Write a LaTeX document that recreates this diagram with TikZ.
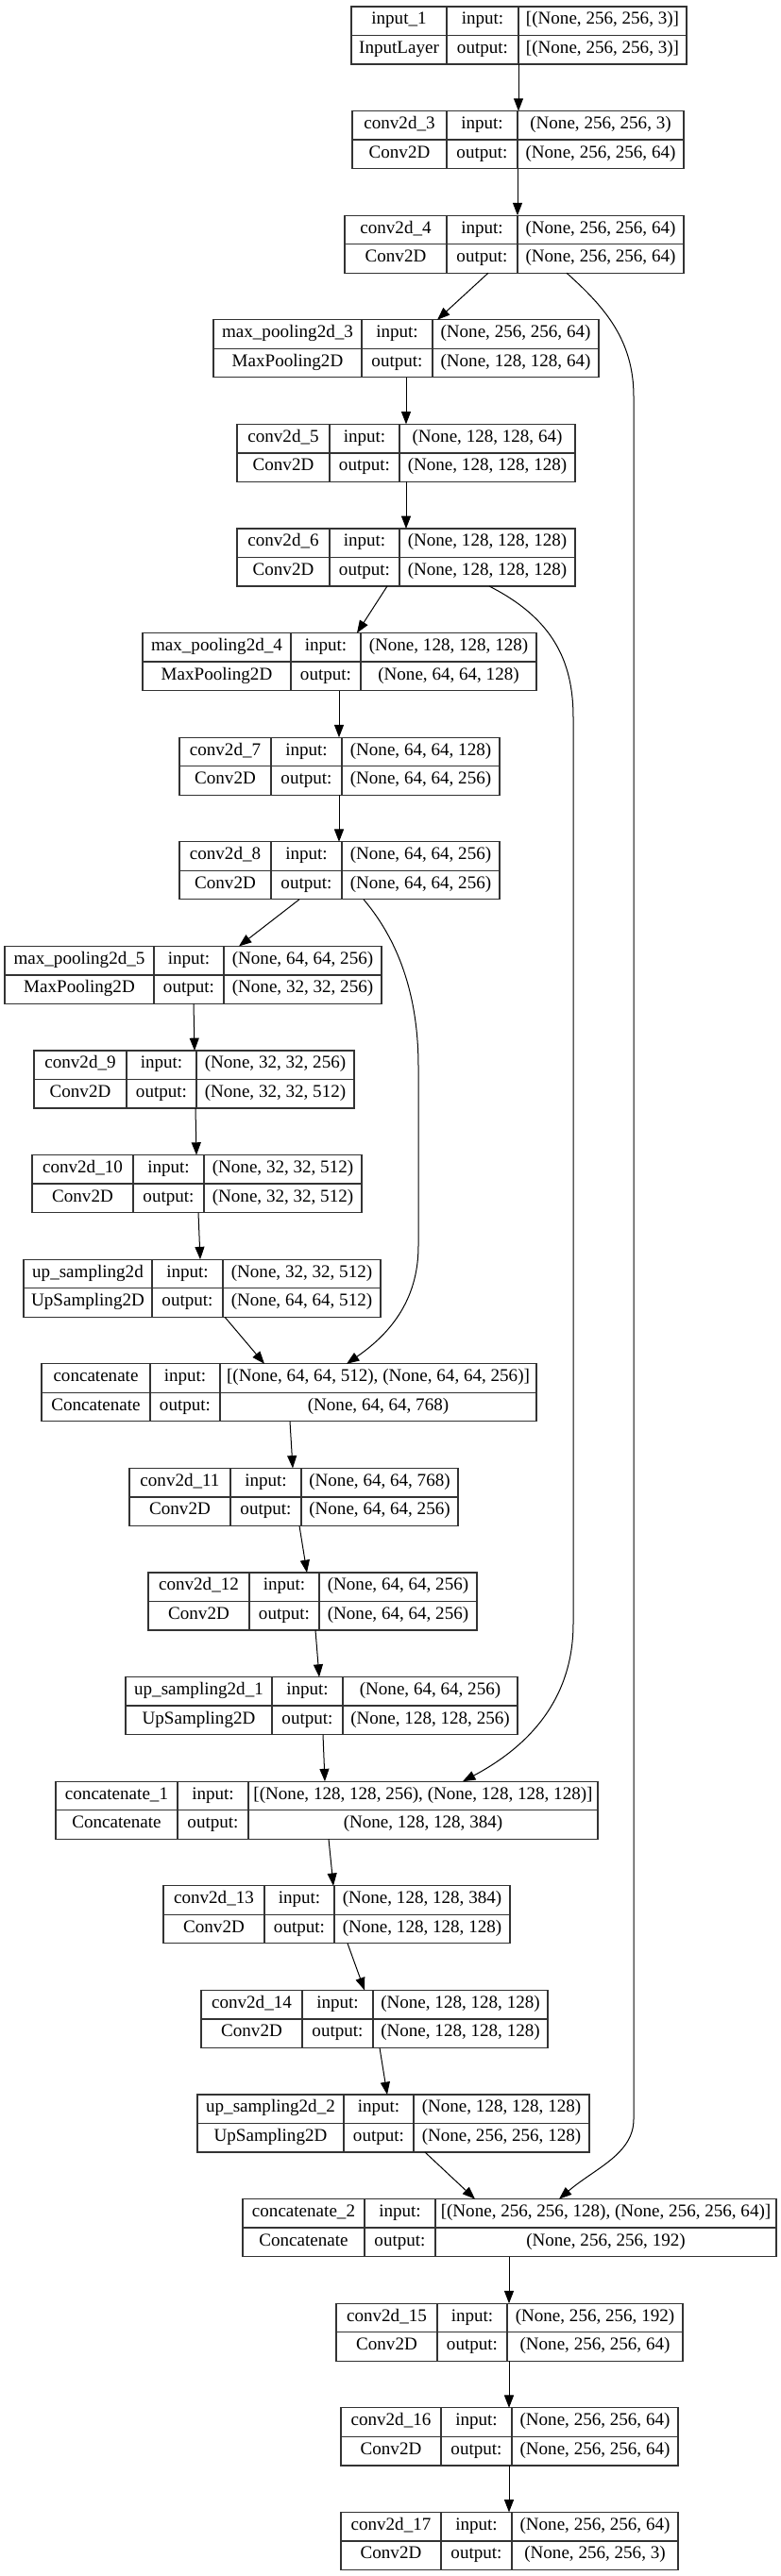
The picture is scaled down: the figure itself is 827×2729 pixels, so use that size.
\documentclass[tikz,border=0pt]{standalone}
\usepackage{fontspec}
\setmainfont{Liberation Serif}
\usetikzlibrary{arrows.meta}

\tikzset{
  layerbox/.style={draw=black!80, line width=1pt, inner sep=0pt, outer sep=0pt, minimum height=45.75pt, anchor=north west},
  cellsep/.style={draw=black!80, line width=1pt},
  cell/.style={font=\fontsize{14.3}{16}\selectfont, inner sep=0pt, text height=0.75em, text depth=0.2em},
  edge/.style={line width=0.75pt, -{Triangle[length=10pt,width=7.5pt]}},
}

\begin{document}
\begin{tikzpicture}[x=0.75pt,y=-0.75pt]
\fill[white] (0,0) rectangle (827,2729);
\useasboundingbox (0,0) rectangle (827,2729);

% layers: name / row / left / col1 / col2 / right / texts
\foreach \nm/\i/\xl/\xa/\xb/\xr/\ln/\cl/\iv/\ov in {
  inp/0/372/473/549/727/input\_1/InputLayer/{[(None, 256, 256, 3)]}/{[(None, 256, 256, 3)]},
  c3/1/373/473/548/724/conv2d\_3/Conv2D/{(None, 256, 256, 3)}/{(None, 256, 256, 64)},
  c4/2/365/473/548/724/conv2d\_4/Conv2D/{(None, 256, 256, 64)}/{(None, 256, 256, 64)},
  pool3/3/226/383/458/634/max\_pooling2d\_3/MaxPooling2D/{(None, 256, 256, 64)}/{(None, 128, 128, 64)},
  c5/4/251/349/423/609/conv2d\_5/Conv2D/{(None, 128, 128, 64)}/{(None, 128, 128, 128)},
  c6/5/251/349/423/609/conv2d\_6/Conv2D/{(None, 128, 128, 128)}/{(None, 128, 128, 128)},
  pool4/6/151/308/382/568/max\_pooling2d\_4/MaxPooling2D/{(None, 128, 128, 128)}/{(None, 64, 64, 128)},
  c7/7/190/287/362/529/conv2d\_7/Conv2D/{(None, 64, 64, 128)}/{(None, 64, 64, 256)},
  c8/8/190/287/362/529/conv2d\_8/Conv2D/{(None, 64, 64, 256)}/{(None, 64, 64, 256)},
  pool5/9/5/163/237/404/max\_pooling2d\_5/MaxPooling2D/{(None, 64, 64, 256)}/{(None, 32, 32, 256)},
  c9/10/36/134/208/375/conv2d\_9/Conv2D/{(None, 32, 32, 256)}/{(None, 32, 32, 512)},
  c10/11/34/141/216/383/conv2d\_10/Conv2D/{(None, 32, 32, 512)}/{(None, 32, 32, 512)},
  up0/12/25/161/236/403/up\_sampling2d/UpSampling2D/{(None, 32, 32, 512)}/{(None, 64, 64, 512)},
  cat0/13/44/159/233/568/concatenate/Concatenate/{[(None, 64, 64, 512), (None, 64, 64, 256)]}/{(None, 64, 64, 768)},
  c11/14/137/244/319/485/conv2d\_11/Conv2D/{(None, 64, 64, 768)}/{(None, 64, 64, 256)},
  c12/15/157/264/338/505/conv2d\_12/Conv2D/{(None, 64, 64, 256)}/{(None, 64, 64, 256)},
  up1/16/133/288/363/548/up\_sampling2d\_1/UpSampling2D/{(None, 64, 64, 256)}/{(None, 128, 128, 256)},
  cat1/17/59/188/263/633/concatenate\_1/Concatenate/{[(None, 128, 128, 256), (None, 128, 128, 128)]}/{(None, 128, 128, 384)},
  c13/18/173/280/354/540/conv2d\_13/Conv2D/{(None, 128, 128, 384)}/{(None, 128, 128, 128)},
  c14/19/213/320/395/580/conv2d\_14/Conv2D/{(None, 128, 128, 128)}/{(None, 128, 128, 128)},
  up2/20/209/364/438/624/up\_sampling2d\_2/UpSampling2D/{(None, 128, 128, 128)}/{(None, 256, 256, 128)},
  cat2/21/257/386/461/822/concatenate\_2/Concatenate/{[(None, 256, 256, 128), (None, 256, 256, 64)]}/{(None, 256, 256, 192)},
  c15/22/356/463/537/723/conv2d\_15/Conv2D/{(None, 256, 256, 192)}/{(None, 256, 256, 64)},
  c16/23/361/467/542/718/conv2d\_16/Conv2D/{(None, 256, 256, 64)}/{(None, 256, 256, 64)},
  c17/24/361/467/542/718/conv2d\_17/Conv2D/{(None, 256, 256, 64)}/{(None, 256, 256, 3)}%
}{
  \pgfmathsetmacro\ty{7+110.6*\i}
  \node[layerbox, minimum width={(\xr-\xl)*0.75pt}] (\nm) at (\xl,\ty) {};
  \draw[cellsep] (\nm.west) -- (\nm.east);
  \draw[cellsep] (\xa,0 |- \nm.north) -- (\xa,0 |- \nm.south);
  \draw[cellsep] (\xb,0 |- \nm.north) -- (\xb,0 |- \nm.south);
  \node[cell] (\nm-n) at ({(\xl+\xa)/2},{\ty+15.25}) {\ln};
  \node[cell] (\nm-c) at ({(\xl+\xa)/2},{\ty+45.75}) {\cl};
  \node[cell] (\nm-il) at ({(\xa+\xb)/2},{\ty+15.25}) {input:};
  \node[cell] (\nm-ol) at ({(\xa+\xb)/2},{\ty+45.75}) {output:};
  \node[cell] (\nm-iv) at ({(\xb+\xr)/2},{\ty+15.25}) {\iv};
  \node[cell] (\nm-ov) at ({(\xb+\xr)/2},{\ty+45.75}) {\ov};
}

% straight edges
\foreach \s/\e/\xs/\xe in {inp/c3/549/549, c3/c4/548/548, c4/pool3/517/463,
  pool3/c5/430/430, c5/c6/430/430, c6/pool4/410/378, pool4/c7/359/359,
  c7/c8/359/359, c8/pool5/317/253, pool5/c9/205/206, c9/c10/207/208,
  c10/up0/210/212, up0/cat0/238/280, cat0/c11/307/310, c11/c12/317/325,
  c12/up1/334/338, up1/cat1/342/344, cat1/c13/348/353, c13/c14/368/386,
  c14/up2/402/410, up2/cat2/450/503, cat2/c15/539/539, c15/c16/539/539,
  c16/c17/539/539}{
  \draw[edge] (\xs,0 |- \s.south) -- (\xe,0 |- \e.north);
}

% skip connections
\draw[edge] (600,0 |- c4.south) .. controls (640,325) and (671,360) .. (671,420)
  -- (671,2245) .. controls (671,2282) and (630,2297) .. (592,0 |- cat2.north);
\draw[edge] (518,0 |- c6.south) .. controls (585,655) and (607,700) .. (607,760)
  -- (607,1720) .. controls (607,1800) and (560,1850) .. (490,0 |- cat1.north);
\draw[edge] (385,0 |- c8.south) .. controls (425,1000) and (443,1060) .. (443,1130)
  -- (443,1320) .. controls (443,1380) and (410,1415) .. (367,0 |- cat0.north);
\end{tikzpicture}
\end{document}
